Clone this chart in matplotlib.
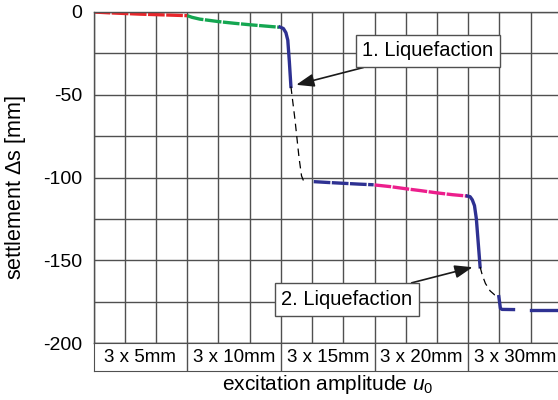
import numpy as np
import matplotlib
matplotlib.use('Agg')
import matplotlib.pyplot as plt

plt.rcParams['font.family'] = ['Liberation Sans', 'DejaVu Sans']
plt.rcParams['axes.unicode_minus'] = False
plt.rcParams['mathtext.fontset'] = 'custom'
plt.rcParams['mathtext.rm'] = 'Liberation Sans'
plt.rcParams['mathtext.it'] = 'Liberation Sans:italic'

# x in load-cycle units (3 cycles per amplitude), y = settlement in mm
red_x = [0, 0.5, 1, 1.5, 2, 2.5, 3]
red_y = [0, -0.5, -0.9, -1.3, -1.6, -1.9, -2.2]
green_x = [3.0, 3.15, 3.4, 4.0, 4.5, 5.0, 5.5, 5.95]
green_y = [-2.2, -3.2, -4.3, -5.8, -6.8, -7.7, -8.5, -9.2]
blue1_x = [5.97, 6.08, 6.16, 6.22, 6.27, 6.32]
blue1_y = [-9.1, -10.0, -12.5, -17.0, -30.0, -45.0]
dash1_x = [6.32, 6.45, 6.58, 6.66, 6.72, 6.8]
dash1_y = [-45.0, -65.0, -88.0, -99.0, -101.8, -102.5]
blue2_x = [7.05, 7.5, 8.0, 8.5, 8.97]
blue2_y = [-102.5, -103.0, -103.5, -104.0, -104.4]
pink_x = [9.0, 9.5, 10.0, 10.5, 11.0, 11.5, 11.97]
pink_y = [-104.5, -105.5, -106.8, -108.0, -109.3, -110.4, -111.2]
blue3_x = [11.97, 12.06, 12.13, 12.2, 12.26, 12.38]
blue3_y = [-111.2, -111.6, -113.5, -117.0, -125.0, -154.0]
dash2_x = [12.38, 12.45, 12.55, 12.7, 12.85, 12.98]
dash2_y = [-154.0, -159.0, -164.0, -168.5, -171.0, -172.0]
blue4_x = [12.98, 13.03, 13.08, 13.45]
blue4_y = [-172.0, -179.0, -179.7, -179.8]
blue5_x = [14.0, 15.0]
blue5_y = [-180.3, -180.3]

amplitudes = ['3 x 5mm', '3 x 10mm', '3 x 15mm', '3 x 20mm', '3 x 30mm']

RED = '#e8262b'
GREEN = '#14a651'
BLUE = '#2e3192'
PINK = '#ec1e8c'
GRID = '#505050'

fig = plt.figure(figsize=(5.58, 4.0), dpi=100)
left = 93.6 / 558
width = 15 * 31.22 / 558
ax = fig.add_axes([left, 1 - 343 / 400, width, 331 / 400])

lw = 2.4
seg = dict(lw=lw, dashes=(5, 0.45), solid_capstyle='butt', dash_capstyle='butt')
ax.plot(red_x, red_y, color=RED, **seg)
ax.plot(green_x, green_y, color=GREEN, **seg)
ax.plot(blue1_x, blue1_y, color=BLUE, lw=lw)
ax.plot(dash1_x, dash1_y, color='black', lw=0.9, dashes=(6, 4))
ax.plot(blue2_x, blue2_y, color=BLUE, **seg)
ax.plot(pink_x, pink_y, color=PINK, **seg)
ax.plot(blue3_x, blue3_y, color=BLUE, lw=lw)
ax.plot(dash2_x, dash2_y, color='black', lw=0.9, dashes=(6, 4))
ax.plot(blue4_x, blue4_y, color=BLUE, lw=lw)
ax.plot(blue5_x, blue5_y, color=BLUE, lw=lw)

ax.set_xlim(0, 15)
ax.set_ylim(-200, 0)
ax.set_xticks(np.arange(0, 16, 1))
ax.set_xticklabels([])
ax.set_yticks(np.arange(-200, 1, 50))
ax.set_yticks(np.arange(-175, 0, 50), minor=True)
ax.tick_params(axis='both', which='both', length=0, labelsize=14, pad=8)
ax.grid(True, which='both', color=GRID, lw=1.0)
for s in ['left', 'top', 'bottom']:
    ax.spines[s].set_color(GRID)
    ax.spines[s].set_linewidth(1.0)
ax.spines['right'].set_visible(False)

ax.set_ylabel('settlement $\\Delta$s [mm]', fontsize=15.5)
ax.yaxis.set_label_coords(-0.14, 0.47)

box = dict(boxstyle='square,pad=0.33', fc='white', ec=GRID, lw=1.0)
arrow = dict(arrowstyle='-|>,head_length=0.6,head_width=0.22', color='#1a1a1a',
             lw=1.2, mutation_scale=18, shrinkA=0, shrinkB=0)
ax.annotate('1. Liquefaction', xy=(6.49, -44), xytext=(10.71, -23.5),
            ha='center', va='center', fontsize=14.5, bbox=box, arrowprops=arrow)
ax.annotate('2. Liquefaction', xy=(12.14, -154.2), xytext=(8.11, -173.7),
            ha='center', va='center', fontsize=14.5, bbox=box, arrowprops=arrow)

# amplitude row under the plot
tab = fig.add_axes([left, 1 - 371 / 400, width, 28 / 400])
tab.set_xlim(0, 15)
tab.set_ylim(0, 1)
tab.set_xticks([])
tab.set_yticks([])
for s in ['left', 'top', 'bottom']:
    tab.spines[s].set_color(GRID)
tab.spines['right'].set_visible(False)
for i, lab in enumerate(amplitudes):
    if i > 0:
        tab.axvline(3 * i, color=GRID, lw=1.0)
    tab.text(3 * i + 1.5, 0.5, lab, ha='center', va='center', fontsize=13.5)

fig.text(328 / 558, 1 - 385 / 400, 'excitation amplitude $u_{\\mathit{0}}$',
         ha='center', va='center', fontsize=15)

fig.savefig('out.png', dpi=100)
